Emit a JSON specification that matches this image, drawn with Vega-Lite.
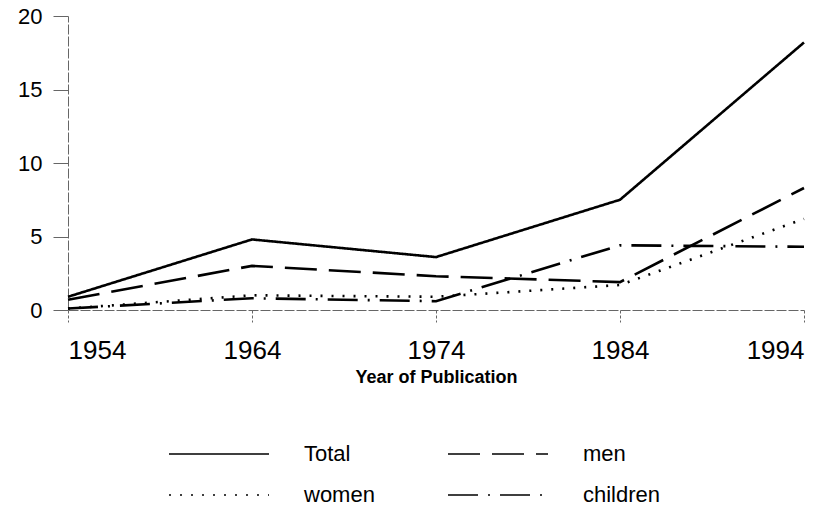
{
  "$schema": "https://vega.github.io/schema/vega-lite/v6.json",
  "width": 736,
  "height": 294,
  "autosize": "none",
  "padding": {"left": 68, "top": 16, "right": 33, "bottom": 200},
  "background": "white",
  "config": {
    "view": {"stroke": null},
    "font": "Liberation Sans",
    "axis": {"grid": false, "domainColor": "#666", "domainWidth": 1, "tickColor": "#666", "tickWidth": 1, "labelColor": "black", "titleColor": "black", "labelFont": "Liberation Sans", "titleFont": "Liberation Sans"}
  },
  "data": {
    "values": [
      {"year": 1954, "series": "Total", "value": 0.9},
      {"year": 1964, "series": "Total", "value": 4.8},
      {"year": 1974, "series": "Total", "value": 3.6},
      {"year": 1984, "series": "Total", "value": 7.5},
      {"year": 1994, "series": "Total", "value": 18.2},
      {"year": 1954, "series": "men", "value": 0.7},
      {"year": 1964, "series": "men", "value": 3.0},
      {"year": 1974, "series": "men", "value": 2.3},
      {"year": 1984, "series": "men", "value": 1.9},
      {"year": 1994, "series": "men", "value": 8.3},
      {"year": 1954, "series": "women", "value": 0.1},
      {"year": 1964, "series": "women", "value": 1.0},
      {"year": 1974, "series": "women", "value": 0.9},
      {"year": 1984, "series": "women", "value": 1.7},
      {"year": 1994, "series": "women", "value": 6.2},
      {"year": 1954, "series": "children", "value": 0.1},
      {"year": 1964, "series": "children", "value": 0.8},
      {"year": 1974, "series": "children", "value": 0.6},
      {"year": 1984, "series": "children", "value": 4.4},
      {"year": 1994, "series": "children", "value": 4.3}
    ]
  },
  "mark": {"type": "line", "color": "black", "strokeWidth": 2.6, "clip": false},
  "encoding": {
    "x": {
      "field": "year", "type": "quantitative",
      "scale": {"domain": [1954, 1994], "zero": false, "nice": false},
      "axis": {"values": [1954, 1964, 1974, 1984, 1994], "format": "d", "title": "Year of Publication", "labelFontSize": 26, "labelPadding": 15, "tickSize": 12, "tickDash": [3, 2], "domainDash": [10, 2], "titleFontSize": 18, "titleFontWeight": "bold", "titlePadding": 5}
    },
    "y": {
      "field": "value", "type": "quantitative",
      "scale": {"domain": [0, 20], "nice": false},
      "axis": {"values": [0, 5, 10, 15, 20], "title": null, "labelFontSize": 22, "labelPadding": 11, "tickSize": 15, "domainDash": [10, 2]}
    },
    "strokeDash": {
      "field": "series", "type": "nominal",
      "scale": {"domain": ["Total", "men", "women", "children"], "range": [[1, 0], [32, 12], [2, 9], [30, 10, 2, 10]]},
      "legend": {
        "title": null, "orient": "none", "legendX": 100, "legendY": 428, "columns": 2, "direction": "horizontal",
        "symbolType": "stroke", "symbolSize": 10000, "symbolStrokeWidth": 1.5, "symbolStrokeColor": "black",
        "clipHeight": 20, "rowPadding": 19, "columnPadding": 72, "labelOffset": 34,
        "labelFontSize": 22, "labelFont": "Liberation Sans", "labelColor": "black"
      }
    }
  }
}
